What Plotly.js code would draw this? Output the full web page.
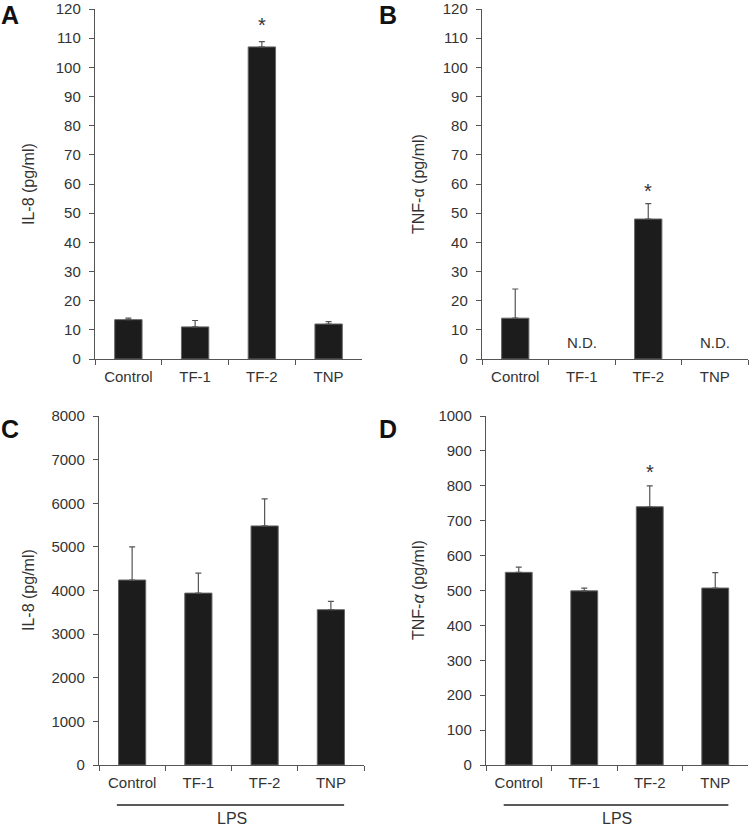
<!DOCTYPE html>
<html>
<head>
<meta charset="utf-8">
<script src="https://cdn.plot.ly/plotly-3.0.1.min.js"></script>
<style>
  body { margin: 0; background: #fff; }
  #chart { width: 752px; height: 828px; }
</style>
</head>
<body>
<div id="chart"></div>
<script>
// Cytokine levels, four panels

const groups = ['Control', 'TF-1', 'TF-2', 'TNP'];

const il8Basal = [13.5, 11, 107, 12];
const il8BasalErr = [0.5, 2.2, 1.8, 0.8];

const tnfBasal = [14, null, 48, null];
const tnfBasalErr = [10, 0, 5.3, 0];

const il8Lps = [4240, 3940, 5480, 3560];
const il8LpsErr = [760, 460, 620, 190];

const tnfLps = [552, 499, 740, 507];
const tnfLpsErr = [15, 8, 60, 44];

const W = 752, H = 828;
const px = v => v / W;
const py = v => (H - v) / H;

const barColor = '#1c1c1c';
const axisColor = '#555';
const textColor = '#333';
const font = 'Liberation Sans, Arial, sans-serif';

function bars(y, err, xa, ya) {
    return {
        type: 'bar',
        x: groups,
        y: y,
        xaxis: xa,
        yaxis: ya,
        width: 0.41,
        marker: { color: barColor, line: { color: '#666', width: 1 } },
        error_y: {
            type: 'data',
            symmetric: false,
            array: err,
            arrayminus: err.map(() => 0),
            color: axisColor,
            thickness: 1.2,
            width: 3
        },
        showlegend: false,
        hoverinfo: 'y'
    };
}

const data = [
    bars(il8Basal, il8BasalErr, 'x', 'y'),
    bars(tnfBasal, tnfBasalErr, 'x2', 'y2'),
    bars(il8Lps, il8LpsErr, 'x3', 'y3'),
    bars(tnfLps, tnfLpsErr, 'x4', 'y4')
];

function xAxis(left, right, anchor) {
    return {
        domain: [px(left), px(right)],
        anchor: anchor,
        type: 'category',
        range: [-0.5, 3.5],
        showline: true,
        linecolor: axisColor,
        linewidth: 1.2,
        ticks: 'outside',
        tickson: 'boundaries',
        ticklen: 5,
        tickcolor: axisColor,
        ticklabelstandoff: 4,
        showgrid: false,
        tickfont: { family: font, size: 15, color: textColor },
        fixedrange: true
    };
}

function yAxis(top, bottom, max, step, anchor) {
    return {
        domain: [py(bottom), py(top)],
        anchor: anchor,
        range: [0, max],
        dtick: step,
        showline: true,
        linecolor: axisColor,
        linewidth: 1.2,
        ticks: 'outside',
        ticklen: 5,
        tickcolor: axisColor,
        ticklabelstandoff: 5,
        showgrid: false,
        zeroline: false,
        tickfont: { family: font, size: 15, color: textColor },
        fixedrange: true
    };
}

function yTitle(x, yMid, text) {
    return {
        xref: 'paper', yref: 'paper',
        x: px(x), y: py(yMid),
        xanchor: 'center', yanchor: 'middle',
        text: text, textangle: -90,
        showarrow: false,
        font: { family: font, size: 16, color: textColor }
    };
}

function letter(x, y, text) {
    return {
        xref: 'paper', yref: 'paper',
        x: px(x), y: py(y),
        xanchor: 'center', yanchor: 'top',
        borderpad: 0,
        text: '<b>' + text + '</b>',
        showarrow: false,
        font: { family: font, size: 25, color: '#111' }
    };
}

function note(xa, ya, cat, val, text, size) {
    return {
        xref: xa, yref: ya,
        x: cat, y: val,
        xanchor: 'center', yanchor: 'middle',
        text: text,
        showarrow: false,
        font: { family: font, size: size, color: textColor }
    };
}

function lpsLabel(xa) {
    return {
        xref: xa + ' domain', yref: 'paper', x: 0.5, y: 0,
        xanchor: 'center', yanchor: 'bottom',
        borderpad: 0,
        text: 'LPS', showarrow: false,
        font: { family: font, size: 16, color: textColor }
    };
}

function lpsLine(xa) {
    return {
        type: 'line', xref: xa, yref: 'paper',
        x0: -0.23, x1: 3.2, y0: py(805), y1: py(805),
        line: { color: '#222', width: 1.5 }
    };
}

const layout = {
    width: W,
    height: H,
    margin: { l: 0, r: 0, t: 0, b: 0 },
    paper_bgcolor: '#fff',
    plot_bgcolor: '#fff',
    xaxis: xAxis(95, 362, 'y'),
    yaxis: yAxis(9, 359, 120, 10, 'x'),
    xaxis2: xAxis(482, 748, 'y2'),
    yaxis2: yAxis(9, 359, 120, 10, 'x2'),
    xaxis3: xAxis(99, 364, 'y3'),
    yaxis3: yAxis(416, 765, 8000, 1000, 'x3'),
    xaxis4: xAxis(486, 748, 'y4'),
    yaxis4: yAxis(416, 765, 1000, 100, 'x4'),
    annotations: [
        yTitle(28, 184, 'IL-8 (pg/ml)'),
        yTitle(418, 184, 'TNF-α (pg/ml)'),
        yTitle(28, 590, 'IL-8 (pg/ml)'),
        yTitle(418, 590, 'TNF-<i>α</i> (pg/ml)'),
        letter(10, 0, 'A'),
        letter(388, 0, 'B'),
        letter(10, 414, 'C'),
        letter(388, 414, 'D'),
        note('x', 'y', 'TF-2', 114.5, '*', 20),
        note('x2', 'y2', 'TF-1', 5.5, 'N.D.', 15),
        note('x2', 'y2', 'TNP', 5.5, 'N.D.', 15),
        note('x2', 'y2', 'TF-2', 57.5, '*', 20),
        note('x4', 'y4', 'TF-2', 840, '*', 20),
        lpsLabel('x3'),
        lpsLabel('x4')
    ],
    shapes: [lpsLine('x3'), lpsLine('x4')]
};

Plotly.newPlot('chart', data, layout, { displayModeBar: false, staticPlot: true });
</script>
</body>
</html>
